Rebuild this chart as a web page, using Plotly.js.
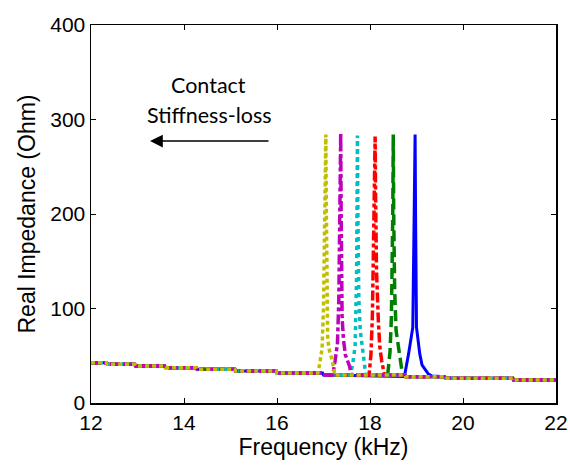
<!DOCTYPE html>
<html>
<head>
<meta charset="utf-8">
<script src="https://cdn.plot.ly/plotly-3.0.1.min.js"></script>
<style>html,body{margin:0;padding:0;background:#fff;}#chart{width:570px;height:465px;}</style>
</head>
<body>
<div id="chart"></div>
<script>
// Shared baseline (kHz, Ohm)
var baseX = [12, 12.33, 12.35, 12.94, 12.96, 13.58, 13.60, 14.26, 14.28, 15.09, 15.11, 15.98, 16.00, 16.98, 17.00, 18.75, 18.77, 19.60, 19.62, 21.07, 21.09, 22];
var baseY = [42.6, 42.6, 40.9, 40.9, 39.1, 39.1, 37.4, 37.4, 35.7, 35.7, 33.9, 33.9, 31.7, 31.7, 29.7, 29.7, 27.8, 27.8, 26.1, 26.1, 24.3, 24.3];

// Resonance peaks
var blueX = [18.74, 18.83, 18.92, 18.95, 18.97, 18.98, 19.00, 19.07, 19.12, 19.25, 19.33];
var blueY = [28, 52, 80, 200, 284, 200, 80, 52, 40, 31, 28.5];
var greenX = [18.38, 18.43, 18.46, 18.49, 18.50, 18.51, 18.53, 18.56, 18.63, 18.70];
var greenY = [29.7, 54, 90, 200, 284, 200, 120, 77, 51, 29.7];
var redX = [17.98, 18.02, 18.05, 18.07, 18.09, 18.11, 18.12, 18.14, 18.18, 18.21, 18.25, 18.31];
var redY = [29.7, 51, 90, 150, 230, 282, 220, 140, 86, 60, 45, 29.7];
var cyanX = [17.58, 17.63, 17.68, 17.71, 17.72, 17.73, 17.74, 17.76, 17.79, 17.86, 17.91];
var cyanY = [29.7, 42, 60, 130, 220, 283, 200, 110, 77, 51, 29.7];
var magentaX = [17.20, 17.25, 17.30, 17.33, 17.36, 17.37, 17.38, 17.40, 17.43, 17.47, 17.56, 17.60];
var magentaY = [29.7, 45, 63, 110, 200, 286, 200, 90, 67, 51, 39, 29.7];
var yellowX = [16.88, 16.92, 16.97, 17.00, 17.02, 17.04, 17.05, 17.06, 17.07, 17.09, 17.13, 17.19, 17.24];
var yellowY = [31.7, 42, 58, 100, 170, 250, 284, 210, 110, 67, 55, 45, 29.7];

var xTicks = [12, 14, 16, 18, 20, 22];
var yTicks = [0, 100, 200, 300, 400];

function buildSeries(px, py) {
  var x = [], y = [];
  for (var i = 0; i < baseX.length; i++) if (baseX[i] < px[0]) { x.push(baseX[i]); y.push(baseY[i]); }
  for (var j = 0; j < px.length; j++) { x.push(px[j]); y.push(py[j]); }
  for (var k = 0; k < baseX.length; k++) if (baseX[k] > px[px.length - 1]) { x.push(baseX[k]); y.push(baseY[k]); }
  return {x: x, y: y};
}

var specs = [
  {px: blueX, py: blueY, color: 'rgb(0,0,255)', dash: 'solid', w: 3},
  {px: greenX, py: greenY, color: 'rgb(0,128,0)', dash: '11px,5px', w: 3.5},
  {px: redX, py: redY, color: 'rgb(255,0,0)', dash: '10px,3px,4px,3px', w: 3.5},
  {px: cyanX, py: cyanY, color: 'rgb(0,191,191)', dash: '4px,4px', w: 3.5},
  {px: magentaX, py: magentaY, color: 'rgb(191,0,191)', dash: '10px,3px,4px,3px', w: 3.5},
  {px: yellowX, py: yellowY, color: 'rgb(191,191,0)', dash: '4px,3px', w: 3.5}
];

var traces = specs.map(function (s) {
  var d = buildSeries(s.px, s.py);
  return {x: d.x, y: d.y, type: 'scatter', mode: 'lines',
          line: {color: s.color, width: s.w, dash: s.dash}, hoverinfo: 'skip'};
});

var tickFont = {family: 'Liberation Sans, Arial, sans-serif', size: 21, color: '#000'};
var titleFont = {family: 'Liberation Sans, Arial, sans-serif', size: 23, color: '#000'};
var noteFont = {family: 'Lato, sans-serif', size: 21.5, color: '#000'};
var layout = {
  width: 570, height: 465,
  margin: {l: 91, r: 14, t: 25, b: 62},
  paper_bgcolor: '#fff', plot_bgcolor: '#fff',
  showlegend: false,
  xaxis: {
    range: [12, 22], tickvals: xTicks, ticktext: xTicks.map(String),
    ticks: 'inside', ticklen: 5, tickwidth: 1, tickcolor: '#000',
    showline: true, linecolor: '#000', linewidth: 1.5, mirror: 'allticks',
    showgrid: false, zeroline: false, tickfont: tickFont,
    title: {text: 'Frequency (kHz)', font: titleFont, standoff: 4}
  },
  yaxis: {
    range: [0, 400], tickvals: yTicks, ticktext: yTicks.map(String),
    ticks: 'inside', ticklen: 5, tickwidth: 1, tickcolor: '#000',
    showline: true, linecolor: '#000', linewidth: 1.5, mirror: 'allticks',
    showgrid: false, zeroline: false, tickfont: tickFont,
    title: {text: 'Real Impedance (Ohm)', font: titleFont, standoff: 8}
  },
  annotations: [
    {x: 14.52, y: 336.5, xref: 'x', yref: 'y', text: 'Contact', showarrow: false, font: noteFont},
    {x: 14.54, y: 304.8, xref: 'x', yref: 'y', text: 'Stiffness-loss', showarrow: false, font: noteFont},
    {x: 13.27, y: 277.2, ax: 15.85, ay: 277.2, xref: 'x', yref: 'y', axref: 'x', ayref: 'y',
     text: '', showarrow: true, arrowhead: 2, arrowsize: 1.7, arrowwidth: 1.5, arrowcolor: '#000'}
  ]
};

Plotly.newPlot('chart', traces, layout, {displayModeBar: false, staticPlot: true});
</script>
</body>
</html>
